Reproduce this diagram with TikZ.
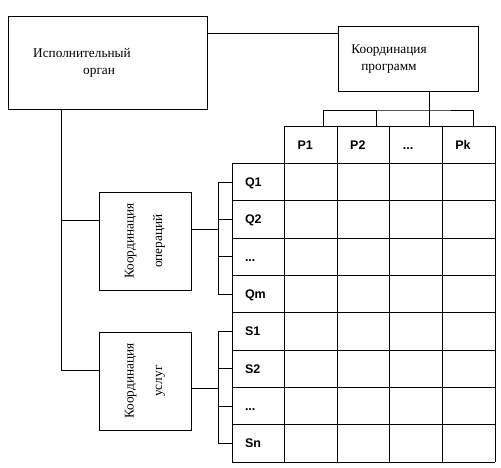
\documentclass[tikz,border=0pt]{standalone}
\usepackage{fontspec}
\setmainfont{Liberation Serif}
\newfontfamily\cellfont{Liberation Sans}
\tikzset{
  unit/.style={draw, line width=0.8pt, inner sep=0pt, outer sep=0pt},
  lbl/.style={inner sep=0pt, font=\fontsize{13.3}{17.5}\selectfont},
  cell/.style={draw, line width=0.8pt, outer sep=0pt, inner xsep=13pt, inner ysep=0pt,
    text width=26.6pt, align=left, minimum height=37.33pt, text height=9pt, text depth=0pt,
    font=\cellfont\bfseries\fontsize{12.5}{14}\selectfont},
  link/.style={line width=0.8pt}
}
\begin{document}
\begin{tikzpicture}[x=1pt,y=-1pt]
\useasboundingbox (0,0) rectangle (501,467);
    \node (isp) at (107.5,62.5) [unit, minimum width=199pt, minimum height=93pt] {};
    \node (kprog) at (408,58.5) [unit, minimum width=140pt, minimum height=65pt] {};
    \node (opr) at (145,241) [unit, minimum width=92pt, minimum height=98pt] {};
    \node (usl) at (145,381) [unit, minimum width=92pt, minimum height=98pt] {};
    \node (isp-t) at (82,63) [lbl, align=left] {Исполнительный\\\hspace*{50pt}орган};
    \node (kprog-t) at (389,59) [lbl, align=center] {Координация\\программ};
    \node (opr-t) at (opr.center) [lbl, align=center, rotate=90] {Координация\\[11pt]операций};
    \node (usl-t) at (usl.center) [lbl, align=center, rotate=90] {Координация\\[11pt]услуг};
% table head
    \node (P1) at (310.9,144.7) [cell] {P1};
    \node (P2) at (363.5,144.7) [cell] {P2};
    \node (Pd) at (416.1,144.7) [cell] {...};
    \node (Pk) at (468.7,144.7) [cell] {Pk};
% table rows
    \node (Q1) at (258.3,182) [cell] {Q1};
    \node (Q2) at (258.3,219.3) [cell] {Q2};
    \node (Qd) at (258.3,256.7) [cell] {...};
    \node (Qm) at (258.3,294) [cell] {Qm};
    \node (S1) at (258.3,331.3) [cell] {S1};
    \node (S2) at (258.3,368.7) [cell] {S2};
    \node (Sd) at (258.3,406) [cell] {...};
    \node (Sn) at (258.3,443.3) [cell] {Sn};
    \foreach \p in {P1,P2,Pd,Pk}
      \draw[link] (\p.south west) -- (\p.south west |- Sn.south);
    \draw[link] (Pk.south east) -- (Pk.south east |- Sn.south);
    \foreach \r in {Q1,Q2,Qd,Qm,S1,S2,Sd,Sn}
      \draw[link] (\r.south east) -- (\r.south east -| Pk.east);
% links
    \coordinate (bus) at ([xshift=21pt,yshift=-19pt]kprog.south);
    \coordinate (trunk) at ([xshift=53pt]isp.south west);
    \coordinate (qbr) at ([xshift=-14pt]Q1.west);
    \coordinate (sbr) at ([xshift=-14pt]S1.west);
\draw[link] ([yshift=-7pt]kprog.north west) -- ([yshift=-7pt]kprog.north west -| isp.east);
\draw[link] ([xshift=21pt]kprog.south) -- (bus);
\draw[link] ([xshift=12pt]P1.north) |- (bus) -| ([xshift=5pt]Pk.north);
\draw[link] ([xshift=12.5pt]P2.north) -- ([xshift=12.5pt]P2.north |- bus);
\draw[link] ([xshift=13pt]Pd.north) -- ([xshift=13pt]Pd.north |- bus);
\draw[link] (trunk) |- ([yshift=11pt]usl.west);
\draw[link] ([yshift=21pt]opr.west) -- ([yshift=21pt]opr.west -| trunk);
\draw[link] (Q1.west) -| (qbr) |- (Qm.west);
\draw[link] (Q2.west) -- (Q2.west -| qbr);
\draw[link] (Qd.west) -- (Qd.west -| qbr);
\draw[link] ([yshift=12pt]opr.east) -- ([yshift=12pt]opr.east -| qbr);
\draw[link] (S1.west) -| (sbr) |- (Sn.west);
\draw[link] (S2.west) -- (S2.west -| sbr);
\draw[link] (Sd.west) -- (Sd.west -| sbr);
\draw[link] ([yshift=-7pt]usl.east) -- ([yshift=-7pt]usl.east -| sbr);
\end{tikzpicture}
\end{document}
